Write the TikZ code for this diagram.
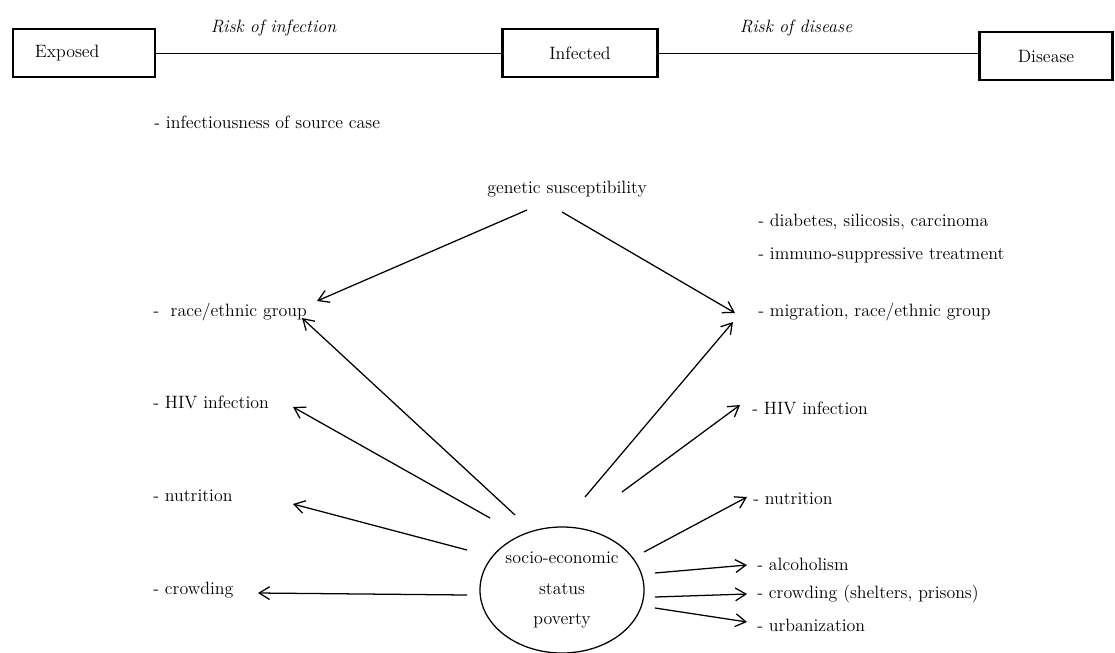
\documentclass[tikz,border=0pt]{standalone}
\usepackage{tikz}
\usetikzlibrary{shapes,arrows.meta,positioning,calc}

\tikzset{
  stage/.style={draw, line width=1.5pt, minimum height=1.2cm, inner sep=0pt},
  risk/.style={above=3mm, font=\fontsize{12.7}{15}\selectfont\itshape},
  item/.style={anchor=west, inner sep=0pt},
  arr/.style={line width=0.9pt, -{Straight Barb[length=2.6mm,width=3.2mm,line width=0.9pt]}},
}

\begin{document}
\begin{tikzpicture}[x=0.025cm, y=-0.025cm, font=\fontsize{12.7}{15}\selectfont]
    \useasboundingbox (0,0) rectangle (1115,652);

    % Stages
    \node[stage, minimum width=3.55cm, text width=2.45cm, inner xsep=0.55cm, align=left] (exp) at (84,53) {Exposed};
    \node[stage, minimum width=3.875cm] (inf) at (580,53) {Infected};
    \node[stage, minimum width=3.325cm] (dis) at (1046,56) {Disease};
    \draw[line width=0.7pt] (exp) -- node[risk, pos=.34] {Risk of infection} (inf);
    \draw[line width=0.7pt] (inf.east) -- node[risk, pos=.43] {Risk of disease} (inf.east -| dis.west);

    % Factors
    \node[item] (src) at (154,122) {- infectiousness of source case};
    \node (gen) at (567,189) {genetic susceptibility};
    \node[item] (diab) at (758,222) {- diabetes, silicosis, carcinoma};
    \node[item] (immu) at (758,255) {- immuno-suppressive treatment};
    \node[item] (raceL) at (153,312) {-~ race/ethnic group};
    \node[item] (migR) at (758,312) {- migration, race/ethnic group};
    \node[item] (hivL) at (153,402) {- HIV infection};
    \node[item] (hivR) at (752,408) {- HIV infection};
    \node[item] (nutL) at (153,496) {- nutrition};
    \node[item] (nutR) at (753,499) {- nutrition};
    \node[item] (crowdL) at (153,590) {- crowding};
    \node[item] (alco) at (757,564) {- alcoholism};
    \node[item] (crowdR) at (757,594) {- crowding (shelters, prisons)};
    \node[item] (urban) at (757,625) {- urbanization};

    % Socio-economic status
    \node[draw, ellipse, line width=0.9pt, minimum width=4.1cm, minimum height=3.15cm, inner sep=0pt,
          align=center, font=\fontsize{12.7}{22}\selectfont] (ses) at (562,590) {socio-economic\\status\\poverty};

    % Arrows
    \draw[arr] (gen.center) ++(-40,21) -- ($(raceL.west)+(164,-11)$);
    \draw[arr] (gen.center) ++(-5,23) -- ($(migR.west)+(-23,1)$);
    \draw[arr] (ses.center) ++(-47,-75) -- ($(raceL.west)+(149,6)$);
    \draw[arr] (ses.center) ++(-72,-72) -- ($(hivL.west)+(140,5)$);
    \draw[arr] (ses.center) ++(-95,-40) -- ($(nutL.west)+(140,8)$);
    \draw[arr] (ses.center) ++(-95,5) -- ($(crowdL.west)+(105,3)$);
    \draw[arr] (ses.center) ++(23,-93) -- ($(migR.west)+(-25,10)$);
    \draw[arr] (ses.center) ++(60,-98) -- ($(hivR.west)+(-12,-3)$);
    \draw[arr] (ses.center) ++(82,-38) -- ($(nutR.west)+(-6,-2)$);
    \draw[arr] (ses.center) ++(93,-17) -- ($(alco.west)+(-10,1)$);
    \draw[arr] (ses.center) ++(93,7) -- ($(crowdR.west)+(-10,0)$);
    \draw[arr] (ses.center) ++(93,18) -- ($(urban.west)+(-10,-3)$);
\end{tikzpicture}
\end{document}
